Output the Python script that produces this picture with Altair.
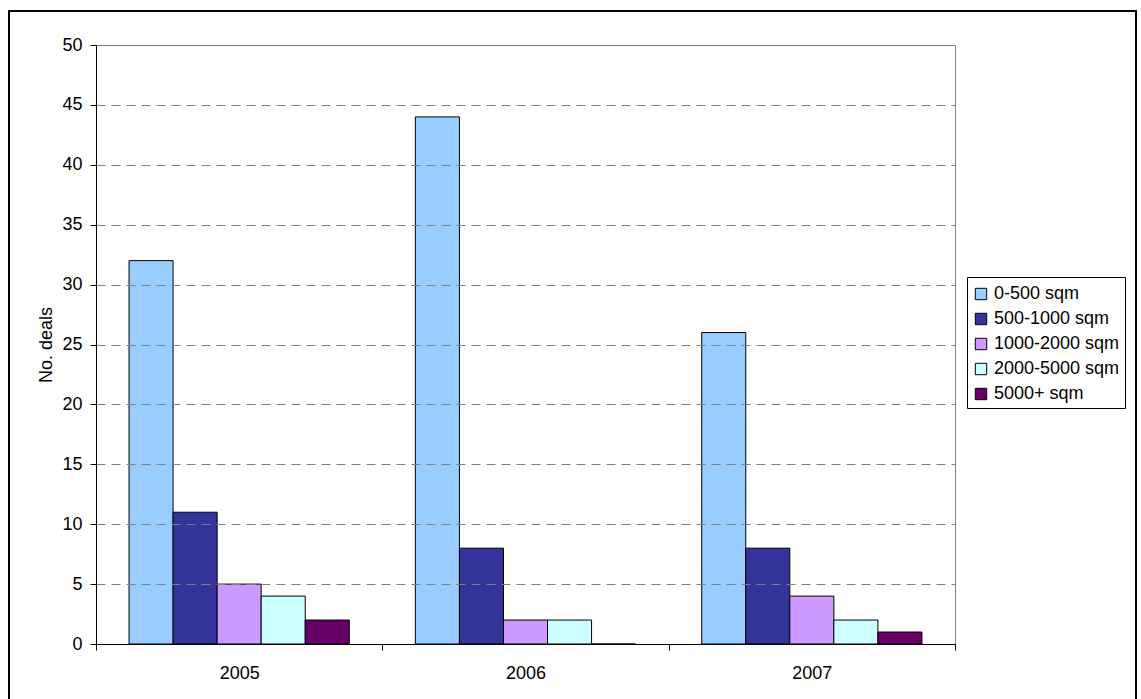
import altair as alt
import pandas as pd

# Deals per floor-area band, by year
years = ["2005", "2006", "2007"]
sizes = ["0-500 sqm", "500-1000 sqm", "1000-2000 sqm", "2000-5000 sqm", "5000+ sqm"]
deals_2005 = [32, 11, 5, 4, 2]
deals_2006 = [44, 8, 2, 2, 0]
deals_2007 = [26, 8, 4, 2, 1]
colors = ["#99CCFF", "#333399", "#CC99FF", "#CCFFFF", "#660066"]
y_ticks = list(range(0, 51, 5))

rows = []
for year, vals in zip(years, [deals_2005, deals_2006, deals_2007]):
    for size, v in zip(sizes, vals):
        rows.append({"year": year, "size": size, "deals": v})
df = pd.DataFrame(rows)

FONT = "Liberation Sans"
W, H = 859, 599
PAD_L, PAD_T = 96, 45

bars = alt.Chart(df).mark_bar(stroke="black", strokeWidth=1).encode(
    x=alt.X(
        "year:N",
        sort=years,
        title=None,
        scale=alt.Scale(paddingInner=0, paddingOuter=0),
        axis=alt.Axis(
            labelAngle=0,
            tickBand="extent",
            tickSize=6,
            labelPadding=14,
            domainColor="black",
            tickColor="black",
            labelColor="black",
            labelFont=FONT,
            labelFontSize=18,
            zindex=1,
        ),
    ),
    xOffset=alt.XOffset(
        "size:N",
        sort=sizes,
        scale=alt.Scale(paddingInner=0, paddingOuter=0.75),
    ),
    y=alt.Y(
        "deals:Q",
        title="No. deals",
        scale=alt.Scale(domain=[0, 50], nice=False),
        axis=alt.Axis(
            values=y_ticks,
            grid=True,
            gridDash=[9, 6],
            gridColor="#808080",
            gridWidth=1,
            gridOpacity=1,
            tickSize=6,
            labelPadding=8,
            domainColor="black",
            tickColor="black",
            labelColor="black",
            labelFont=FONT,
            labelFontSize=18,
            titleFont=FONT,
            titleFontSize=18,
            titleFontWeight="normal",
            titleColor="black",
            titlePadding=6,
            zindex=1,
        ),
    ),
    color=alt.Color(
        "size:N",
        sort=sizes,
        scale=alt.Scale(domain=sizes, range=colors),
        legend=alt.Legend(
            title=" ",
            titleFontSize=3,
            titlePadding=0,
            orient="none",
            legendX=871,
            legendY=232,
            direction="vertical",
            symbolType="square",
            symbolSize=130,
            symbolStrokeColor="black",
            symbolStrokeWidth=1,
            symbolOpacity=1,
            labelFont=FONT,
            labelFontSize=18,
            labelColor="black",
            labelOffset=4,
            rowPadding=7,
            padding=5,
            strokeColor="black",
            fillColor="white",
        ),
    ),
)

# Outer frame around the whole figure
frame = alt.Chart(pd.DataFrame({"f": [0]})).mark_rect(
    fill=None, fillOpacity=0, stroke="black", strokeWidth=2
).encode(
    x=alt.value(-87),
    x2=alt.value(1040),
    y=alt.value(-34),
    y2=alt.value(660),
)

chart = (
    alt.layer(bars, frame)
    .properties(
        width=W,
        height=H,
        autosize=alt.AutoSizeParams(type="none"),
        padding={"left": PAD_L, "top": PAD_T, "right": 1141 - PAD_L - W, "bottom": 699 - PAD_T - H},
        background="white",
    )
    .configure_view(stroke="#808080", strokeWidth=1)
)

chart.save("out.html", embed_options={"renderer": "svg", "actions": False})
